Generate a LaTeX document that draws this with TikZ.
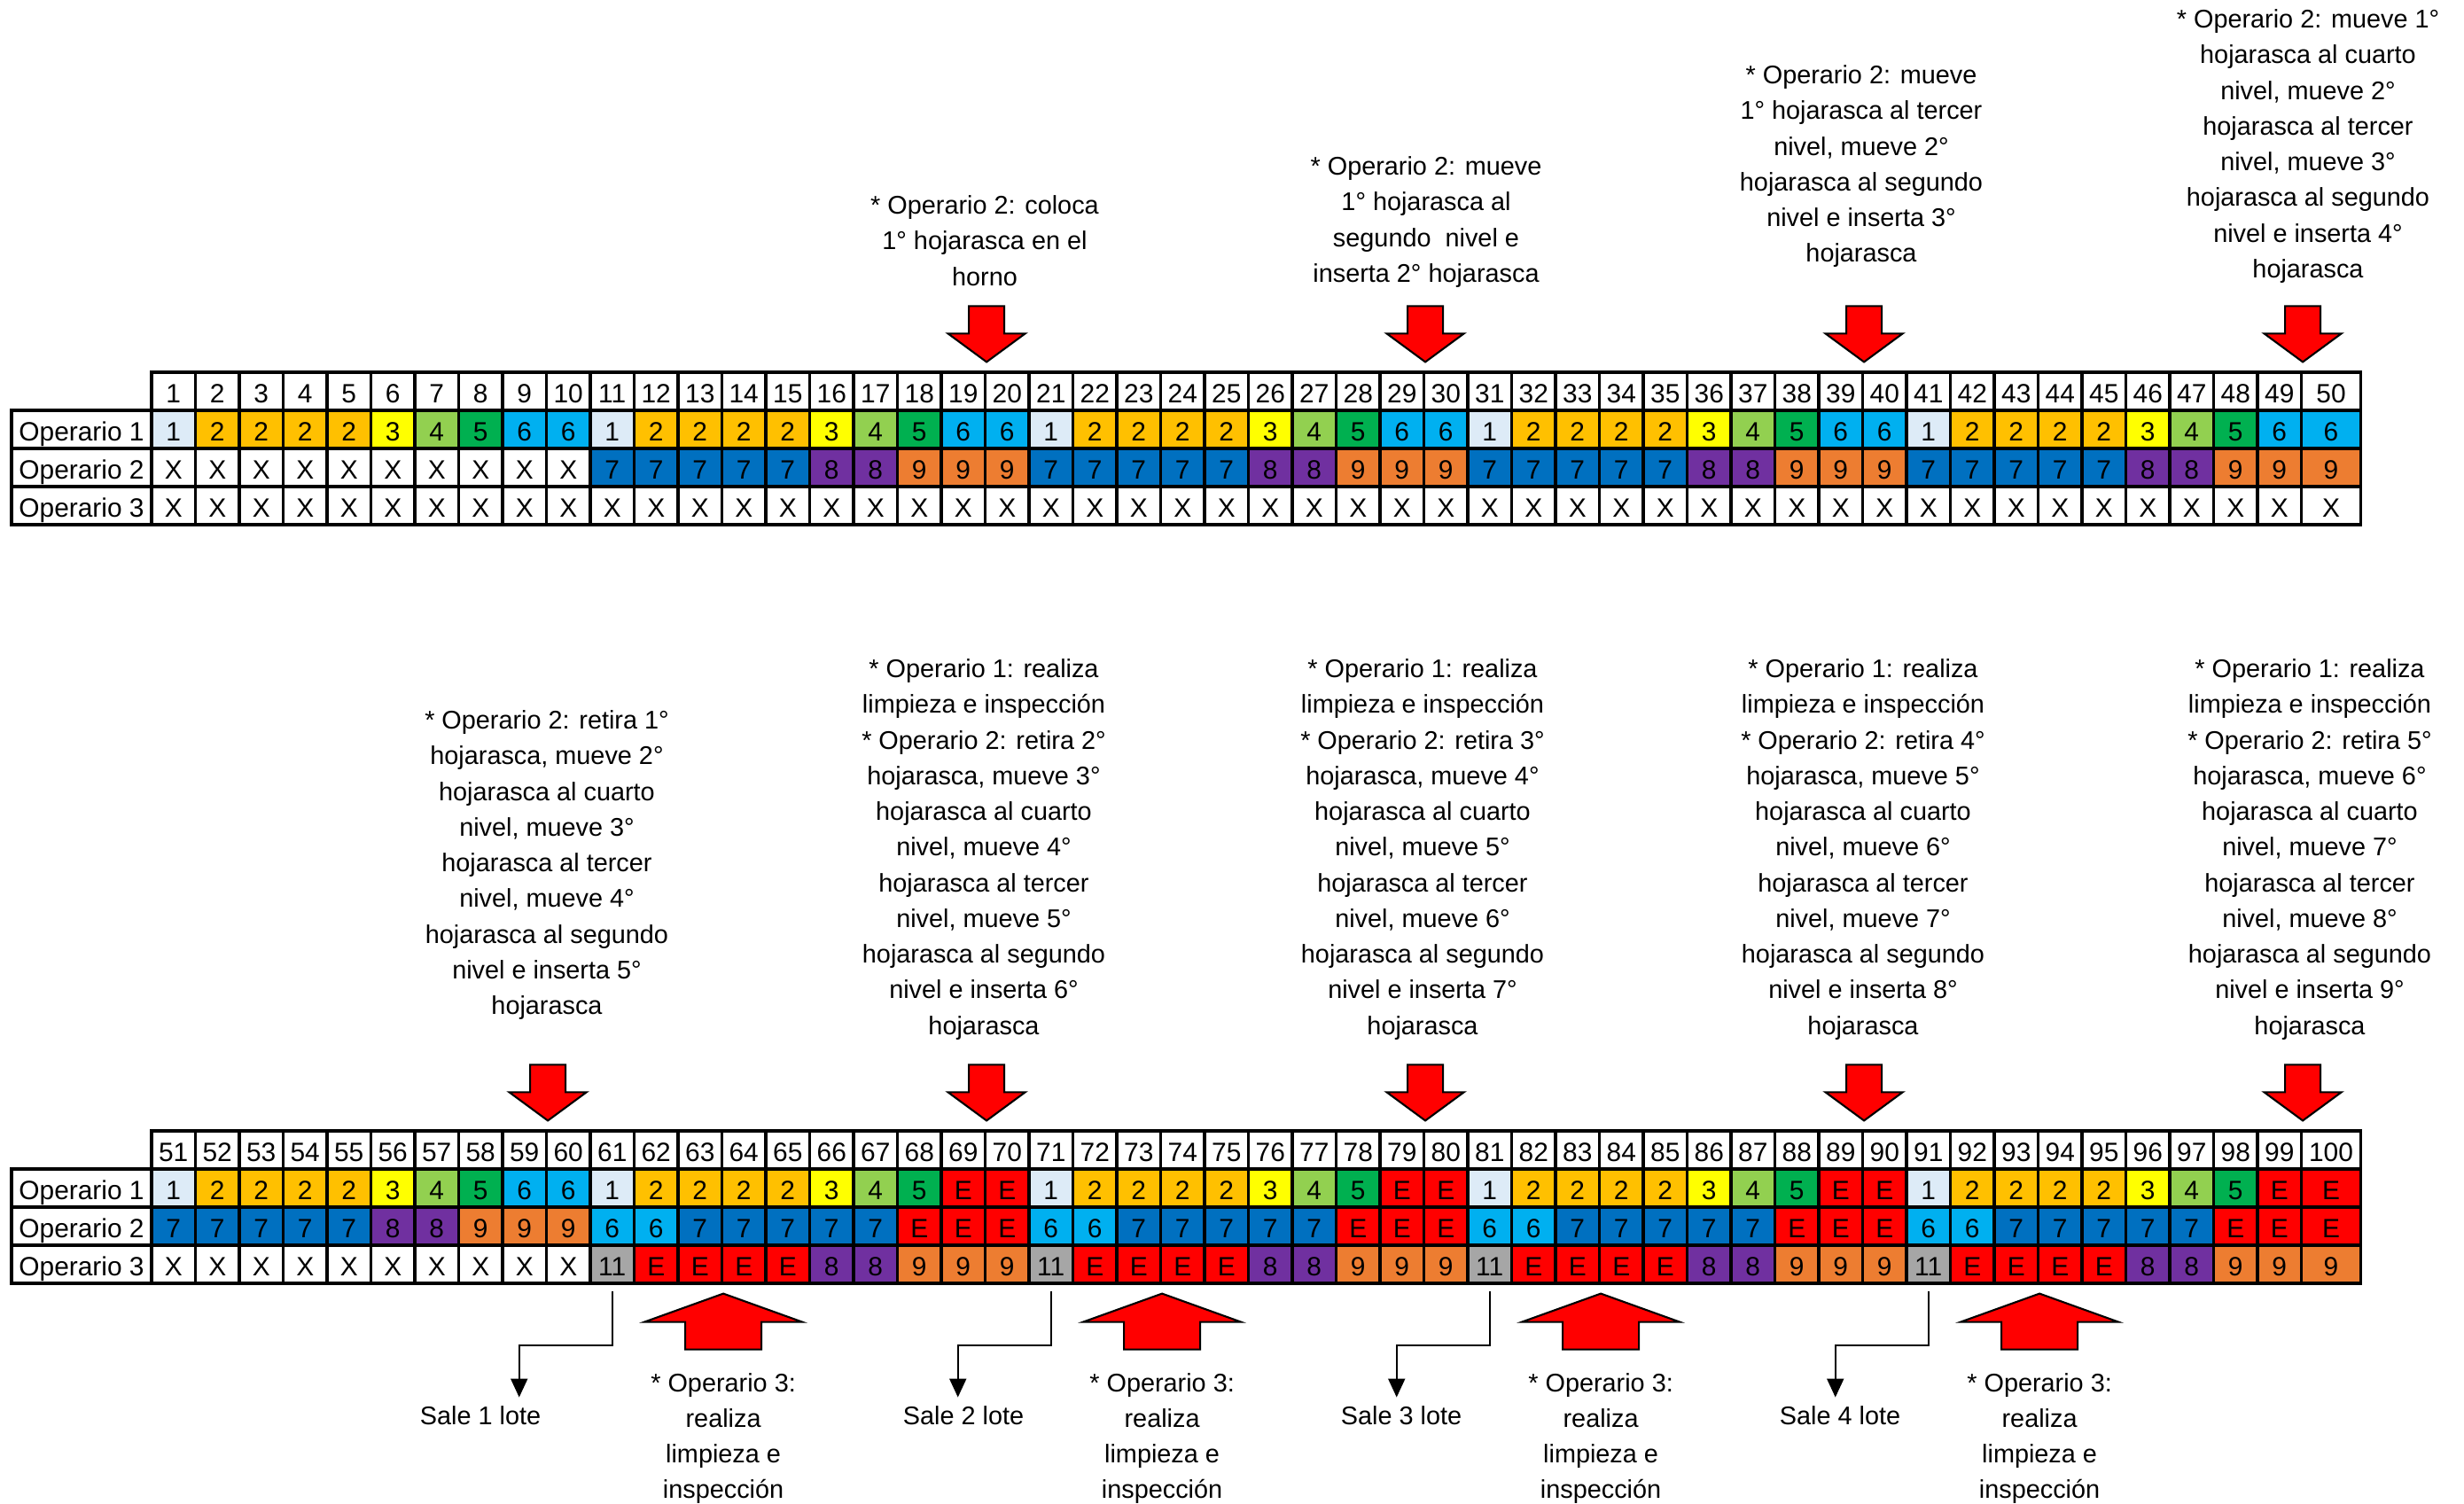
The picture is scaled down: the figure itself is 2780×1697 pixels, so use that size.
\documentclass[tikz,border=0pt]{standalone}
\usepackage{fontspec}
\setmainfont{Liberation Sans}
\usetikzlibrary{arrows.meta,calc}

\definecolor{colX}{HTML}{FFFFFF}
\definecolor{col1}{HTML}{DDEBF7}
\definecolor{col2}{HTML}{FFC000}
\definecolor{col3}{HTML}{FFFF00}
\definecolor{col4}{HTML}{92D050}
\definecolor{col5}{HTML}{00B050}
\definecolor{col6}{HTML}{00B0F0}
\definecolor{col7}{HTML}{0070C0}
\definecolor{col8}{HTML}{7030A0}
\definecolor{col9}{HTML}{ED7D31}
\definecolor{colE}{HTML}{FF0000}
\definecolor{col11}{HTML}{A6A6A6}

\tikzset{
  celda/.style={draw, line width=0.9pt, minimum width=0.495cm, minimum height=0.43cm, inner sep=0pt, text height=7.6pt, text depth=0pt, font=\fontsize{8.5}{10}\selectfont},
  ancho/.style={minimum width={0.495cm+(#1==50)*0.175cm}},
  nombre/.style={celda, minimum width=1.58cm},
  nota/.style={align=center, inner sep=0pt, anchor=north, font=\fontsize{8.2}{11.45}\selectfont},
  bloque/.style={draw=black, fill=red, line width=0.6pt},
  salida/.style={line width=0.6pt, -{Triangle[length=6pt,width=5.4pt]}}
}

\begin{document}
\begin{tikzpicture}[x=0.01cm, y=-0.01cm, declare function={cx(\n)=\n<50 ? 171+(\n-0.5)*49.5 : 2630;}]
    \useasboundingbox (0,0) rectangle (2780,1697);

    % tabla superior, ciclos 1-50
    \foreach \f/\yc in {1/484.5,2/527.5,3/570.5}
        \node[nombre] (nom\f-sup) at (92,\yc) {Operario \f};
    \foreach \i in {1,...,50}
        \node[celda, ancho=\i] (hdr-\i) at ({cx(\i)},441.5) {\i};
    \foreach \v [count=\i] in {1,2,2,2,2,3,4,5,6,6,1,2,2,2,2,3,4,5,6,6,1,2,2,2,2,3,4,5,6,6,1,2,2,2,2,3,4,5,6,6,1,2,2,2,2,3,4,5,6,6}
        \node[celda, ancho=\i, fill=col\v] (op1-\i) at ({cx(\i)},484.5) {\v};
    \foreach \v [count=\i] in {X,X,X,X,X,X,X,X,X,X,7,7,7,7,7,8,8,9,9,9,7,7,7,7,7,8,8,9,9,9,7,7,7,7,7,8,8,9,9,9,7,7,7,7,7,8,8,9,9,9}
        \node[celda, ancho=\i, fill=col\v] (op2-\i) at ({cx(\i)},527.5) {\v};
    \foreach \i in {1,...,50}
        \node[celda, ancho=\i] (op3-\i) at ({cx(\i)},570.5) {X};

    % tabla inferior, ciclos 51-100
    \foreach \f/\yc in {1/1340.5,2/1383.5,3/1426.5}
        \node[nombre] (nom\f-inf) at (92,\yc) {Operario \f};
    \foreach \i in {51,...,100}
        \node[celda, ancho=\i-50] (hdr-\i) at ({cx(\i-50)},1297.5) {\i};
    \foreach \v [count=\i from 51] in {1,2,2,2,2,3,4,5,6,6,1,2,2,2,2,3,4,5,E,E,1,2,2,2,2,3,4,5,E,E,1,2,2,2,2,3,4,5,E,E,1,2,2,2,2,3,4,5,E,E}
        \node[celda, ancho=\i-50, fill=col\v] (op1-\i) at ({cx(\i-50)},1340.5) {\v};
    \foreach \v [count=\i from 51] in {7,7,7,7,7,8,8,9,9,9,6,6,7,7,7,7,7,E,E,E,6,6,7,7,7,7,7,E,E,E,6,6,7,7,7,7,7,E,E,E,6,6,7,7,7,7,7,E,E,E}
        \node[celda, ancho=\i-50, fill=col\v] (op2-\i) at ({cx(\i-50)},1383.5) {\v};
    \foreach \v [count=\i from 51] in {X,X,X,X,X,X,X,X,X,X,11,E,E,E,E,8,8,9,9,9,11,E,E,E,E,8,8,9,9,9,11,E,E,E,E,8,8,9,9,9,11,E,E,E,E,8,8,9,9,9}
        \node[celda, ancho=\i-50, fill=col\v] (op3-\i) at ({cx(\i-50)},1426.5) {\v};

    % flechas rojas
    \foreach \c in {19,29,39,49,59,69,79,89,99}
        \draw[bloque] ($(hdr-\c.north east)+(0,-10)$) -- ++(-43.5,-32) -- ++(23.5,0) -- ++(0,-31) -- ++(40,0) -- ++(0,31) -- ++(23.5,0) -- cycle;
    \foreach \c in {63,73,83,93}
        \draw[bloque] ($(op3-\c.south east)+(0,10)$) -- ++(-89,32) -- ++(46,0) -- ++(0,31) -- ++(86,0) -- ++(0,-31) -- ++(46,0) -- cycle;

    % notas de arriba
    \node[nota] (nota19) at (1111,220) {* Operario 2: coloca\\1° hojarasca en el\\horno};
    \node[nota] (nota29) at (1609,176) {* Operario 2: mueve\\1° hojarasca al\\segundo\ \ nivel e\\inserta 2° hojarasca};
    \node[nota] (nota39) at (2100,73) {* Operario 2: mueve\\1° hojarasca al tercer\\nivel, mueve 2°\\hojarasca al segundo\\nivel e inserta 3°\\hojarasca};
    \node[nota] (nota49) at (2604,10) {* Operario 2: mueve 1°\\hojarasca al cuarto\\nivel, mueve 2°\\hojarasca al tercer\\nivel, mueve 3°\\hojarasca al segundo\\nivel e inserta 4°\\hojarasca};
    \node[nota] (nota59) at (617,801) {* Operario 2: retira 1°\\hojarasca, mueve 2°\\hojarasca al cuarto\\nivel, mueve 3°\\hojarasca al tercer\\nivel, mueve 4°\\hojarasca al segundo\\nivel e inserta 5°\\hojarasca};
    \foreach \c/\tx/\n in {69/1110/2,79/1605/3,89/2102/4,99/2606/5} {
        \pgfmathtruncatemacro\na{\n+1}
        \pgfmathtruncatemacro\nb{\n+2}
        \pgfmathtruncatemacro\nc{\n+3}
        \pgfmathtruncatemacro\nd{\n+4}
        \node[nota] (nota\c) at (\tx,743) {* Operario 1: realiza\\limpieza e inspección\\* Operario 2: retira \n°\\hojarasca, mueve \na°\\hojarasca al cuarto\\nivel, mueve \nb°\\hojarasca al tercer\\nivel, mueve \nc°\\hojarasca al segundo\\nivel e inserta \nd°\\hojarasca};
    }

    % notas de abajo y salida de lotes
    \foreach \c in {63,73,83,93}
        \node[nota] (limp\c) at ($(op3-\c.south east)+(0,99)$) {* Operario 3:\\realiza\\limpieza e\\inspección};
    \foreach \c/\k/\tx in {61/1/542,71/2/1087,81/3/1581,91/4/2076} {
        \node[nota] (sale\k) at (\tx,1586) {Sale \k\ lote};
        \draw[salida, shorten <=2pt] (op3-\c.south) -- ++(0,68) -- ++(-105,0) -- ++(0,59) coordinate (fin\k);
    }
\end{tikzpicture}
\end{document}
